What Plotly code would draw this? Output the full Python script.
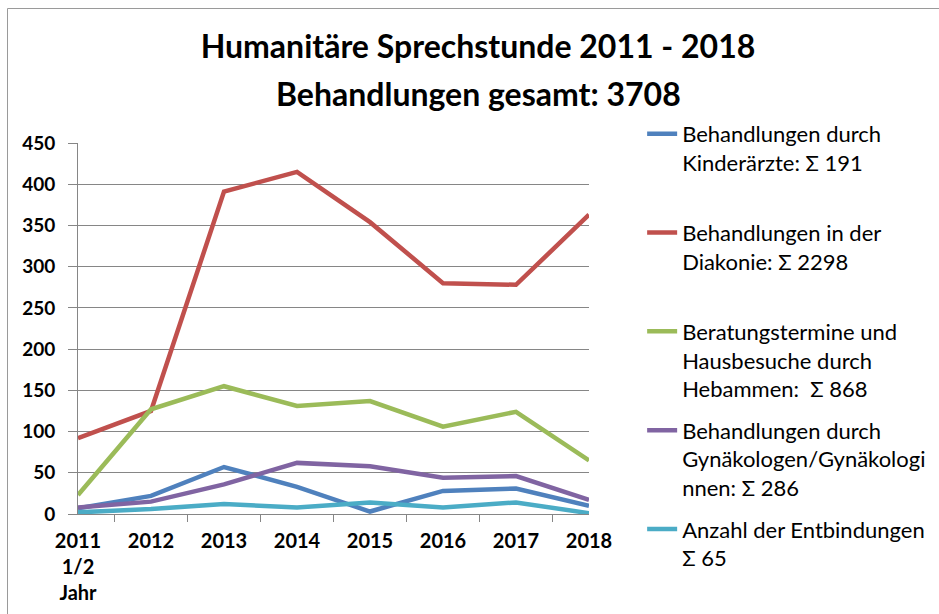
import plotly.graph_objects as go

years = ["2011<br>1/2<br>Jahr", "2012", "2013", "2014", "2015", "2016", "2017", "2018"]
kinderaerzte = [7, 22, 57, 33, 3, 28, 31, 10]
diakonie = [92, 125, 391, 415, 354, 280, 278, 363]
hebammen = [23, 127, 155, 131, 137, 106, 124, 65]
gynaekologen = [8, 15, 36, 62, 58, 44, 46, 17]
entbindungen = [2, 6, 12, 8, 14, 8, 14, 1]

series_names = [
    "Behandlungen durch<br>Kinderärzte: Σ 191<br> ",
    "Behandlungen in der<br>Diakonie: Σ 2298<br> ",
    "Beratungstermine und<br>Hausbesuche durch<br>Hebammen: \u00a0Σ 868",
    "Behandlungen durch<br>Gynäkologen/Gynäkologi<br>nnen: Σ 286",
    "Anzahl der Entbindungen<br>Σ 65",
]
series_values = [kinderaerzte, diakonie, hebammen, gynaekologen, entbindungen]
colors = ["#4F81BD", "#C0504D", "#9BBB59", "#8064A2", "#4BACC6"]

title_line1 = "Humanitäre Sprechstunde 2011 - 2018"
title_line2 = "Behandlungen gesamt: 3708"

FONT = "Lato"
fig = go.Figure()
for i, (name, vals, col) in enumerate(zip(series_names, series_values, colors)):
    fig.add_trace(go.Scatter(
        x=years, y=vals, name=name, mode="lines",
        line=dict(color=col, width=4.5),
        legendgroup=f"g{i}",
    ))

fig.update_layout(
    width=939, height=614,
    margin=dict(l=78, r=350, t=143, b=100, autoexpand=False),
    paper_bgcolor="white", plot_bgcolor="white",
    font=dict(family=FONT, color="black"),
    title=dict(
        text=f"<b>{title_line1}</b>",
        x=0.509, xanchor="center", xref="container",
        y=1 - 47 / 614, yanchor="middle", yref="container",
        font=dict(family=FONT, size=32, color="black"),
    ),
    legend=dict(
        x=1.104, xanchor="left", y=1.081, yanchor="top",
        font=dict(family=FONT, size=22, color="black"),
        valign="top", tracegroupgap=10, traceorder="grouped",
        bgcolor="rgba(0,0,0,0)", maxheight=600,
    ),
    showlegend=True,
)
fig.add_annotation(
    text=f"<b>{title_line2}</b>", xref="paper", yref="paper",
    x=(478 - 78) / 511, y=(514 - 93) / 371, xanchor="center", yanchor="middle",
    showarrow=False, font=dict(family=FONT, size=32, color="black"),
)
fig.update_yaxes(
    range=[0, 450], dtick=50, showgrid=True, gridcolor="#868686", gridwidth=1,
    showline=True, linecolor="#868686", linewidth=1,
    ticks="outside", ticklen=9, tickcolor="#868686", ticklabelstandoff=9,
    tickfont=dict(family=FONT, size=19, color="black", weight="bold"),
    zeroline=False,
)
fig.update_xaxes(
    type="category", showline=True, linecolor="#868686", linewidth=1,
    ticks="outside", ticklen=7, tickcolor="#868686", tickson="boundaries",
    ticklabelstandoff=9,
    tickfont=dict(family=FONT, size=20, color="black", weight="bold"),
    showgrid=False,
)
fig.add_shape(type="rect", xref="paper", yref="paper",
              x0=(7.5 - 78) / 511, x1=(950 - 78) / 511,
              y0=(514 - 630) / 371, y1=(514 - 8.5) / 371,
              line=dict(color="#9a9a9a", width=1), fillcolor="rgba(0,0,0,0)", layer="below")
fig.write_html("out.html", config={"displayModeBar": False},
               post_script="document.body.style.margin='0';")
